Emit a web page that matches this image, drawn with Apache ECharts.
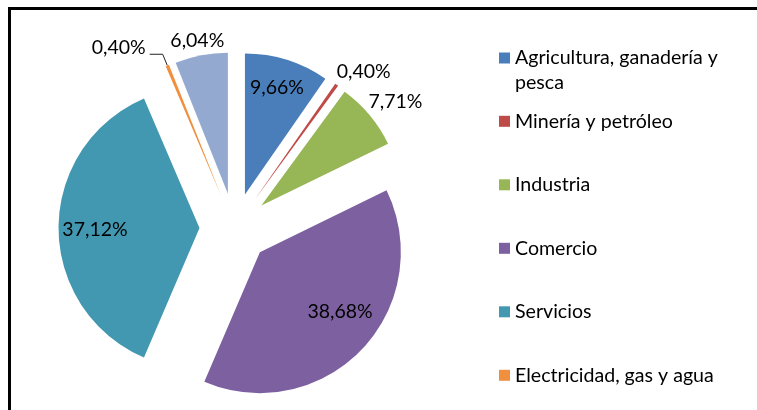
<!DOCTYPE html>
<html>
<head>
<meta charset="utf-8">
<script src="https://cdn.jsdelivr.net/npm/echarts@6/dist/echarts.min.js"></script>
<style>
  html, body { margin: 0; padding: 0; background: #fff; }
  #wrap { position: relative; width: 757px; height: 410px; overflow: hidden; }
  #frame { position: absolute; left: 8px; top: 7px; width: 900px; height: 600px;
           border-top: 3px solid #000; border-left: 3px solid #000; }
  #chart { position: absolute; left: 0; top: 0; width: 757px; height: 410px; }
</style>
</head>
<body>
<div id="wrap">
  <div id="frame"></div>
  <div id="chart"></div>
</div>
<script>
// Participación por sector (%)
const sectores = [
  'Agricultura, ganadería y pesca',
  'Minería y petróleo',
  'Industria',
  'Comercio',
  'Servicios',
  'Electricidad, gas y agua',
  'Otros'
];
const participacion = [9.66, 0.40, 7.71, 38.68, 37.12, 0.40, 6.04];

// Estilo de cada porción
const colores = ['#4A7EBB', '#BE4B48', '#97B655', '#7D60A0', '#4298B0', '#F0903F', '#93A9D0'];
const posicionEtiqueta = ['inside', 'outside', 'outside', 'inside', 'inside', 'outside', 'outside'];
const ajusteEtiqueta = [[10, -37], [-4, -13], [-5, -13], [27, 9], [-31, 2], [0, -7], [27, -14]];
const guia = [null, null, null, null, null, [12, 13], null];

const fuente = 'Lato, "Open Sans", sans-serif';

const datos = sectores.map((nombre, i) => ({
  name: nombre,
  value: participacion[i],
  selected: true,
  itemStyle: { color: colores[i] },
  label: { position: posicionEtiqueta[i] },
  labelLine: guia[i]
    ? { show: true, length: guia[i][0], length2: guia[i][1] }
    : { show: false, length: 0, length2: 0 }
}));

const chart = echarts.init(document.getElementById('chart'), null, { renderer: 'canvas' });

const textoLeyenda = { fontFamily: fuente, fontSize: 19.6, color: '#000', lineHeight: 25 };

chart.setOption({
  animation: false,
  legend: [
    {
      // primera entrada: el ícono queda a la altura de la primera línea
      orient: 'vertical',
      left: 499,
      top: 20.5,
      padding: 0,
      icon: 'rect',
      itemWidth: 11,
      itemHeight: 11,
      selectedMode: false,
      data: [sectores[0]],
      formatter: n => '\n' + n,
      textStyle: Object.assign({}, textoLeyenda, { width: 235, overflow: 'break' })
    },
    {
      orient: 'vertical',
      left: 499,
      top: 108.8,
      padding: 0,
      icon: 'rect',
      itemWidth: 11,
      itemHeight: 11,
      itemGap: 38.5,
      selectedMode: false,
      data: sectores.slice(1, 6),
      textStyle: textoLeyenda
    }
  ],
  series: [{
    type: 'pie',
    center: [234.5, 228],
    radius: 141,
    startAngle: 90,
    clockwise: true,
    selectedMode: 'multiple',
    selectedOffset: 35,
    avoidLabelOverlap: false,
    emphasis: { disabled: true },
    select: { itemStyle: { borderWidth: 0 } },
    itemStyle: { borderWidth: 0 },
    label: {
      show: true,
      fontFamily: fuente,
      fontSize: 19.5,
      color: '#000',
      textBorderWidth: 0,
      distanceToLabelLine: 4,
      formatter: p => p.value.toFixed(2).replace('.', ',') + '%'
    },
    labelLine: {
      lineStyle: { color: '#222', width: 1 }
    },
    labelLayout: p => ({
      dx: ajusteEtiqueta[p.dataIndex][0],
      dy: ajusteEtiqueta[p.dataIndex][1]
    }),
    data: datos
  }]
});
</script>
</body>
</html>
